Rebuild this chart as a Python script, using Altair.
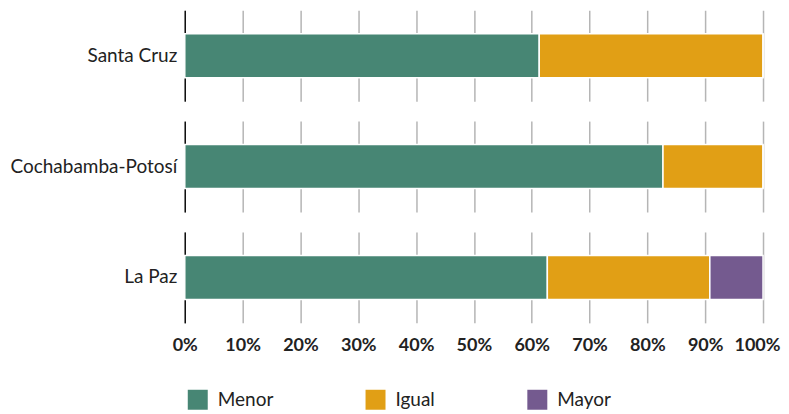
import altair as alt
import pandas as pd

regions = ["Santa Cruz", "Cochabamba-Potosí", "La Paz"]
categories = ["Menor", "Igual", "Mayor"]
menor = [0.613, 0.827, 0.627]
igual = [0.387, 0.173, 0.281]
mayor = [0.0, 0.0, 0.092]
colors = ["#478674", "#E19F15", "#745A8F"]

rows = []
for i, r in enumerate(regions):
    for j, (c, v) in enumerate(zip(categories, [menor[i], igual[i], mayor[i]])):
        rows.append({"region": r, "cat": c, "value": v, "ord": j})
df = pd.DataFrame(rows)

FONT = "Lato"

base = alt.Chart(df).mark_bar(size=44, stroke="white", strokeWidth=1.5).encode(
    x=alt.X("value:Q", stack="zero",
            scale=alt.Scale(domain=[0, 1], nice=False),
            axis=alt.Axis(format=".0%", values=[i / 10 for i in range(11)],
                          title=None, domain=False, ticks=False,
                          labelPadding=14, labelFontWeight="bold",
                          labelFontSize=18, labelColor="#222",
                          labelFont=FONT, labelOverlap=False, labelFlush=False,
                          labelOffset={"condition": {"test": "datum.value == 1", "value": -6}, "value": 0},
                          grid=True, gridColor="#b5b5b5", gridWidth=1.5)),
    y=alt.Y("region:N", title=None,
            axis=alt.Axis(domain=True, domainColor="#111", domainWidth=1.5,
                          ticks=False, labelPadding=8, labelFontSize=19,
                          labelColor="#222", labelFont=FONT, labelLimit=0,
                          grid=False)),
    color=alt.Color("cat:N", sort=categories,
                    scale=alt.Scale(domain=categories, range=colors),
                    legend=alt.Legend(title=None, orient="none", direction="horizontal",
                                      legendX=3, legendY=380,
                                      symbolType="square", symbolSize=400,
                                      symbolStrokeWidth=0, columnPadding=92,
                                      labelFontSize=19, labelFont=FONT,
                                      labelColor="#222", labelOffset=10)),
    order=alt.Order("ord:Q"),
).properties(width=579, height=91)

chart = base.facet(
    row=alt.Row("region:N", sort=regions, header=alt.Header(labels=False, title=None)),
    spacing=20,
).resolve_scale(y="independent").properties(
    padding={"left": 1, "top": 2, "right": 0, "bottom": 0}
).configure_view(stroke=None)

chart.save("out.html", embed_options={"renderer": "svg", "actions": False})
